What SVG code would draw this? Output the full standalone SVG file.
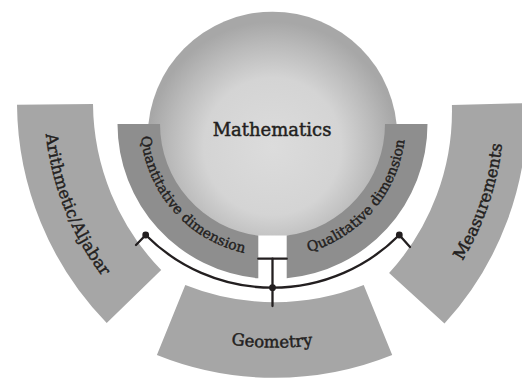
<svg xmlns="http://www.w3.org/2000/svg" xmlns:xlink="http://www.w3.org/1999/xlink" width="522" height="387" viewBox="0 0 522 387">
<style>
.outer{fill:#a6a6a6}
.inner{fill:#8e8e8e}
.lbl{font-family:"DejaVu Serif","Liberation Serif",serif;fill:#231f20;stroke:#231f20;stroke-width:0.45px}
.big{font-size:16.5px}
.mid{font-size:14px;stroke-width:0.4px}
.conn{fill:none;stroke:#231f20;stroke-width:2.3;stroke-linecap:round}
.dot{fill:#231f20}
</style>
<defs>
<radialGradient id="sphere" cx="50%" cy="54%" r="50%">
<stop offset="0" stop-color="#dcdcdc"/>
<stop offset="0.55" stop-color="#d4d4d4"/>
<stop offset="0.82" stop-color="#bababa"/>
<stop offset="1" stop-color="#a7a7a7"/>
</radialGradient>
<clipPath id="sphereClip"><rect x="0" y="0" width="522" height="235.6"/></clipPath>
<path id="pArith" d="M58.67,10.94 A290,290 0 0 0 196.51,357.34"/>
<path id="pMeas" d="M363.7,360.5 A292,292 0 0 0 484.06,4.93"/>
<path id="pGeom" d="M129.85,308.26 A285,285 0 0 0 414.84,310.75"/>
<path id="pQuant" d="M147.28,82.22 A132,132 0 0 0 298.93,253.33"/>
<path id="pQual" d="M248.15,254.75 A133,133 0 0 0 397.91,79.71"/>
</defs>

<g id="node-arithmetic">
<path class="outer" d="M17,104.8 A317,317 0 0 0 106.7,323 L161.2,270 A241,241 0 0 1 93,104.1 Z"/>
<text class="lbl big"><textPath href="#pArith" startOffset="50%" text-anchor="middle">Arithmetic/Aljabar</textPath></text>
</g>
<g id="node-measurements">
<path class="outer" d="M526.9,103.1 A315,315 0 0 1 444.5,323.6 L389.1,273 A240,240 0 0 0 451.9,105 Z"/>
<text class="lbl big"><textPath href="#pMeas" startOffset="50%" text-anchor="middle">Measurements</textPath></text>
</g>
<g id="node-geometry">
<path class="outer" d="M185.3,285 A240,240 0 0 0 363.7,285 L392.2,355 A315,315 0 0 1 156.9,355 Z"/>
<text class="lbl big"><textPath href="#pGeom" startOffset="50%" text-anchor="middle">Geometry</textPath></text>
</g>

<g id="node-mathematics">
<circle cx="272.5" cy="136.4" r="124.7" fill="url(#sphere)" clip-path="url(#sphereClip)"/>
<text class="lbl" x="272" y="136" font-size="18" text-anchor="middle">Mathematics</text>
</g>

<g id="node-quantitative">
<path class="inner" d="M117.5,124 A155,155 0 0 0 258.3,278.35 L258.3,235.6 A112.5,112.5 0 0 1 160,124 Z"/>
<text class="lbl mid"><textPath href="#pQuant" startOffset="50%" text-anchor="middle">Quantitative dimension</textPath></text>
</g>
<g id="node-qualitative">
<path class="inner" d="M427.5,124 A155,155 0 0 1 286.7,278.35 L286.7,235.6 A112.5,112.5 0 0 0 385,124 Z"/>
<text class="lbl mid"><textPath href="#pQual" startOffset="50%" text-anchor="middle">Qualitative dimension</textPath></text>
</g>

<g id="connectors">
<path class="conn" d="M145.7,235 A178.9,178.9 0 0 0 399.3,235"/>
<path class="conn" d="M145.7,235 L136,245"/>
<path class="conn" d="M399.3,235 L410,247"/>
<path class="conn" d="M258.3,258.7 H286.7"/>
<path class="conn" d="M272.5,258.7 V306"/>
<circle class="dot" cx="145.7" cy="235" r="3.4"/>
<circle class="dot" cx="399.3" cy="235" r="3.4"/>
<circle class="dot" cx="272.5" cy="287.7" r="3.4"/>
</g>
</svg>
